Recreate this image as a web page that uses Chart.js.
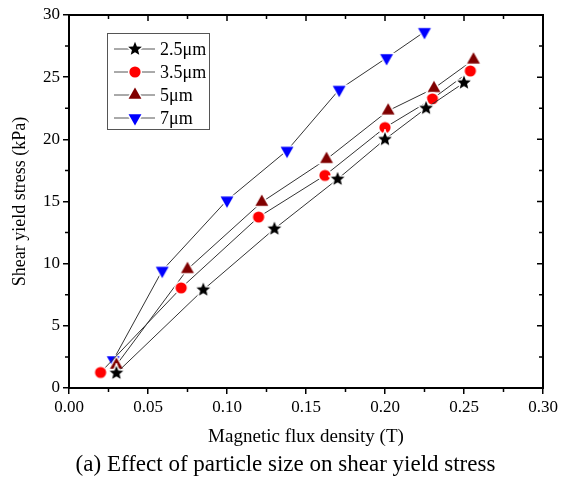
<!DOCTYPE html>
<html>
<head>
<meta charset="utf-8">
<script src="https://cdn.jsdelivr.net/npm/chart.js@4/dist/chart.umd.min.js"></script>
<style>
  html, body { margin: 0; padding: 0; background: #fff; }
  #wrap { width: 571px; height: 485px; }
</style>
</head>
<body>
<div id="wrap"><canvas id="chart" width="571" height="485"></canvas></div>
<script>
// particle sizes
const sizeLabels = ['2.5μm', '3.5μm', '5μm', '7μm'];

// magnetic flux density (T) and shear yield stress (kPa) per particle size
const flux25 = [0.030, 0.085, 0.130, 0.170, 0.200, 0.226, 0.250];
const stress25 = [1.2, 7.9, 12.8, 16.8, 20.0, 22.5, 24.55];
const flux35 = [0.020, 0.071, 0.120, 0.162, 0.200, 0.230, 0.254];
const stress35 = [1.25, 8.05, 13.75, 17.1, 20.95, 23.25, 25.5];
const flux5 = [0.030, 0.075, 0.122, 0.163, 0.202, 0.231, 0.256];
const stress5 = [1.85, 9.55, 14.95, 18.4, 22.3, 24.1, 26.4];
const flux7 = [0.028, 0.059, 0.100, 0.138, 0.171, 0.201, 0.225];
const stress7 = [2.25, 9.45, 15.1, 19.1, 24.0, 26.55, 28.65];

const xTicks = [0, 0.05, 0.10, 0.15, 0.20, 0.25, 0.30];
const yTicks = [0, 5, 10, 15, 20, 25, 30];

const caption = '(a) Effect of particle size on shear yield stress';

const serif = "'Liberation Serif', 'Times New Roman', serif";

// marker images with a thin white halo, so lines stop just short of them
function makeMarker(shape, color) {
  const s = 20, c = document.createElement('canvas');
  c.width = s; c.height = s;
  const ctx = c.getContext('2d');
  const cx = s / 2, cy = s / 2;
  ctx.beginPath();
  if (shape === 'circle') {
    ctx.arc(cx, cy, 5.6, 0, Math.PI * 2);
  } else if (shape === 'up' || shape === 'down') {
    const r = 7.4, dir = shape === 'up' ? -1 : 1;
    for (let i = 0; i < 3; i++) {
      const a = Math.PI / 2 * dir + i * 2 * Math.PI / 3;
      const px = cx + r * Math.cos(a), py = cy + r * Math.sin(a);
      i ? ctx.lineTo(px, py) : ctx.moveTo(px, py);
    }
  } else {
    const R = 7.2, r = 3.2;
    for (let i = 0; i < 10; i++) {
      const rad = i % 2 ? r : R;
      const a = -Math.PI / 2 + i * Math.PI / 5;
      const px = cx + rad * Math.cos(a), py = cy + rad * Math.sin(a);
      i ? ctx.lineTo(px, py) : ctx.moveTo(px, py);
    }
  }
  ctx.closePath();
  ctx.lineWidth = 3;
  ctx.strokeStyle = '#fff';
  ctx.stroke();
  ctx.fillStyle = color;
  ctx.fill();
  return c;
}

const markers = [
  makeMarker('star', '#000000'),
  makeMarker('circle', '#ff0000'),
  makeMarker('up', '#800000'),
  makeMarker('down', '#0000ff')
];

const series = [[flux25, stress25], [flux35, stress35], [flux5, stress5], [flux7, stress7]];

const datasets = series.map(([xs, ys], i) => ({
  label: sizeLabels[i],
  data: xs.map((x, j) => ({ x: x, y: ys[j] })),
  borderColor: '#333',
  borderWidth: 1,
  pointStyle: markers[i],
  pointRadius: 6,
  fill: false,
  tension: 0
}));

// frame, minor ticks, mirrored inward ticks, legend box and caption
const framePlugin = {
  id: 'frame',
  afterDraw(chart) {
    const { ctx, chartArea: a, scales: { x, y } } = chart;
    ctx.save();
    ctx.strokeStyle = '#000';
    ctx.lineWidth = 2;
    ctx.strokeRect(a.left, a.top, a.right - a.left, a.bottom - a.top);
    ctx.lineWidth = 1.5;
    ctx.beginPath();
    for (let v = 0; v <= 0.3001; v += 0.025) {
      const px = x.getPixelForValue(v);
      const major = Math.abs(v / 0.05 - Math.round(v / 0.05)) < 1e-6;
      const len = major ? 6 : 4;
      ctx.moveTo(px, a.top); ctx.lineTo(px, a.top + len);
      if (!major) { ctx.moveTo(px, a.bottom); ctx.lineTo(px, a.bottom + len); }
    }
    for (let v = 0; v <= 30.001; v += 2.5) {
      const py = y.getPixelForValue(v);
      const major = v % 5 === 0;
      const len = major ? 6 : 4;
      ctx.moveTo(a.right, py); ctx.lineTo(a.right - len, py);
      if (!major) { ctx.moveTo(a.left, py); ctx.lineTo(a.left - len, py); }
    }
    ctx.stroke();

    // legend box inside the plot
    const bx = a.left + 38, by = a.top + 18, bw = 102, bh = 96, row = 23;
    ctx.lineWidth = 1;
    ctx.strokeStyle = '#555';
    ctx.strokeRect(bx + 0.5, by + 0.5, bw, bh);
    ctx.font = '18px ' + serif;
    ctx.textBaseline = 'middle';
    ctx.fillStyle = '#000';
    chart.data.datasets.forEach((ds, i) => {
      const ry = by + 16 + i * row;
      ctx.strokeStyle = '#555';
      ctx.beginPath();
      ctx.moveTo(bx + 7, ry); ctx.lineTo(bx + 48, ry);
      ctx.stroke();
      const m = ds.pointStyle;
      ctx.drawImage(m, bx + 28 - m.width / 2, ry - m.height / 2);
      ctx.fillText(ds.label, bx + 53, ry + 1);
    });

    // caption under the figure, centred on the whole canvas
    ctx.font = '23px ' + serif;
    ctx.textAlign = 'center';
    ctx.fillText(caption, chart.width / 2, 465);
    ctx.restore();
  }
};

new Chart(document.getElementById('chart'), {
  type: 'line',
  data: { datasets: datasets },
  plugins: [framePlugin],
  options: {
    responsive: false,
    animation: false,
    layout: { padding: { top: 15, right: 28, left: 0, bottom: 34 } },
    plugins: {
      legend: { display: false },
      tooltip: { enabled: false }
    },
    scales: {
      x: {
        type: 'linear',
        min: 0,
        max: 0.3,
        afterFit(scale) { scale.height = 63; },
        afterBuildTicks(scale) { scale.ticks = xTicks.map(v => ({ value: v })); },
        ticks: {
          color: '#000',
          padding: 3,
          font: { family: serif, size: 17 },
          callback: v => Number(v).toFixed(2)
        },
        grid: { drawOnChartArea: false, drawTicks: true, tickLength: 6, color: '#000', lineWidth: 1.5 },
        border: { display: true, color: '#000', width: 2 },
        title: {
          display: true,
          text: 'Magnetic flux density (T)',
          color: '#000',
          font: { family: serif, size: 19 },
          padding: { top: 3, bottom: 3 }
        }
      },
      y: {
        min: 0,
        max: 30,
        afterFit(scale) { scale.width = 69; },
        afterBuildTicks(scale) { scale.ticks = yTicks.map(v => ({ value: v })); },
        ticks: {
          color: '#000',
          padding: 3,
          font: { family: serif, size: 17 }
        },
        grid: { drawOnChartArea: false, drawTicks: true, tickLength: 6, color: '#000', lineWidth: 1.5 },
        border: { display: true, color: '#000', width: 2 },
        title: {
          display: true,
          text: 'Shear yield stress (kPa)',
          color: '#000',
          font: { family: serif, size: 18 },
          padding: { top: 9, bottom: 9 }
        }
      }
    }
  }
});
</script>
</body>
</html>
